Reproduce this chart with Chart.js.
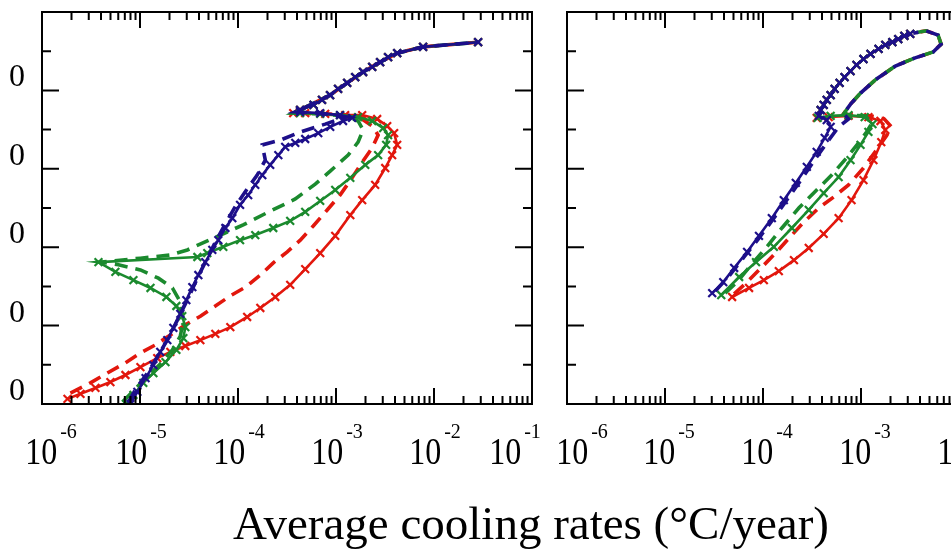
<!DOCTYPE html>
<html>
<head>
<meta charset="utf-8">
<script src="https://cdn.jsdelivr.net/npm/chart.js@4.4.1/dist/chart.umd.min.js"></script>
<style>
  html, body { margin: 0; padding: 0; background: #fff; overflow: hidden; }
  #page { position: relative; width: 951px; height: 554px; overflow: hidden; }
  #left-chart { position: absolute; left: 0; top: 0; }
  #right-chart { position: absolute; left: 547px; top: 0; }
  #x-title {
    position: absolute; left: 0; width: 1062px; top: 500px;
    text-align: center; white-space: nowrap; color: #000;
    font-family: "Liberation Serif", "Times New Roman", serif;
    font-size: 47px; line-height: 47px;
  }
</style>
</head>
<body>
<div id="page">
  <canvas id="left-chart" width="560" height="554"></canvas>
  <canvas id="right-chart" width="540" height="554"></canvas>
  <div id="x-title">Average cooling rates (°C/year)</div>
</div>
<script>
// tick labels
const decadeExponents = [-6, -5, -4, -3, -2, -1];
const yTickValues = [0, 2, 4, 6, 8];
const yTickLabels = ["0", "0", "0", "0", "0"];

// ---- left panel ----
const leftUpperRate = [4.3e-4, 5.9e-4, 7.2e-4, 8.7e-4, 1.05e-3, 1.3e-3, 1.57e-3, 1.89e-3, 2.34e-3, 2.82e-3, 3.4e-3, 4.21e-3, 7.74e-3, 2.82e-2];
const leftUpperLevel = [7.5, 7.63, 7.76, 7.88, 8.04, 8.19, 8.34, 8.47, 8.6, 8.72, 8.85, 8.95, 9.11, 9.23];
const leftDashUpperRate = [4.3e-4, 8.7e-4, 1.3e-3, 1.89e-3, 2.82e-3, 4.21e-3, 7.74e-3, 2.82e-2];
const leftDashUpperLevel = [7.5, 7.88, 8.19, 8.47, 8.72, 8.95, 9.11, 9.23];

const leftRedSolidRate = [1.82e-6, 2.47e-6, 3.51e-6, 4.99e-6, 7.1e-6, 1.01e-5, 1.5e-5, 2.04e-5, 2.9e-5, 4.13e-5, 5.87e-5, 8.35e-5, 1.24e-4, 1.69e-4, 2.4e-4, 3.41e-4, 4.85e-4, 6.9e-4, 9.82e-4, 1.4e-3, 1.85e-3, 2.51e-3, 3.18e-3, 3.74e-3, 4.21e-3, 3.92e-3, 3.33e-3, 2.63e-3, 1.85e-3, 1.24e-3, 7.76e-4, 4.85e-4, 3.66e-4];
const leftRedSolidLevel = [0.13, 0.26, 0.41, 0.56, 0.74, 0.94, 1.17, 1.33, 1.48, 1.63, 1.79, 1.96, 2.22, 2.45, 2.73, 3.04, 3.44, 3.85, 4.29, 4.82, 5.2, 5.59, 6.02, 6.35, 6.61, 6.91, 7.09, 7.27, 7.37, 7.37, 7.4, 7.42, 7.42];
const leftRedDashRate = [1.95e-6, 3.12e-6, 4.65e-6, 7.1e-6, 1.01e-5, 1.44e-5, 2.04e-5, 2.9e-5, 4.13e-5, 5.87e-5, 8.35e-5, 1.19e-4, 1.69e-4, 2.29e-4, 3.18e-4, 4.32e-4, 5.86e-4, 8.13e-4, 1.1e-3, 1.46e-3, 1.85e-3, 2.34e-3, 2.69e-3, 2.34e-3, 1.77e-3, 1.24e-3, 7.76e-4, 3.66e-4];
const leftRedDashLevel = [0.28, 0.54, 0.79, 1.05, 1.3, 1.51, 1.76, 2.02, 2.24, 2.5, 2.76, 2.98, 3.29, 3.6, 3.88, 4.18, 4.54, 4.95, 5.33, 5.77, 6.17, 6.53, 6.86, 7.09, 7.3, 7.37, 7.4, 7.42];

const leftGreenSolidRate = [7.44e-6, 8.57e-6, 1.08e-5, 1.37e-5, 1.82e-5, 2.35e-5, 2.77e-5, 2.9e-5, 2.7e-5, 2.35e-5, 1.86e-5, 1.28e-5, 8.57e-6, 5.61e-6, 3.77e-6, 3.85e-5, 4.86e-5, 7.08e-5, 1.05e-4, 1.5e-4, 2.29e-4, 3.41e-4, 4.85e-4, 6.9e-4, 9.82e-4, 1.4e-3, 1.99e-3, 2.69e-3, 3.25e-3, 3.4e-3, 3.03e-3, 2.34e-3, 1.68e-3, 1.1e-3, 6.9e-4, 4.3e-4];
const leftGreenSolidLevel = [0, 0.23, 0.54, 0.79, 1.07, 1.38, 1.68, 1.96, 2.24, 2.5, 2.73, 2.96, 3.16, 3.37, 3.62, 3.75, 3.85, 4.01, 4.18, 4.31, 4.49, 4.67, 4.9, 5.18, 5.46, 5.77, 6.1, 6.35, 6.61, 6.86, 7.04, 7.22, 7.32, 7.37, 7.4, 7.42];
const leftGreenDashRate = [6.62e-6, 8.37e-6, 1.14e-5, 1.61e-5, 2.14e-5, 2.58e-5, 2.77e-5, 2.58e-5, 2.14e-5, 1.54e-5, 1.01e-5, 6.03e-6, 3.94e-6, 1.01e-5, 2.04e-5, 3.04e-5, 5.6e-5, 1.13e-4, 2.13e-4, 3.84e-4, 6.14e-4, 8.73e-4, 1.33e-3, 1.68e-3, 1.89e-3, 1.68e-3, 1.24e-3, 6.9e-4, 3.66e-4];
const leftGreenDashLevel = [0.05, 0.31, 0.66, 1.02, 1.38, 1.73, 2.14, 2.6, 2.96, 3.21, 3.42, 3.55, 3.62, 3.72, 3.8, 3.93, 4.23, 4.57, 4.92, 5.23, 5.61, 5.94, 6.35, 6.68, 6.99, 7.22, 7.35, 7.4, 7.42];

const leftBlueSolidRate = [7.98e-6, 9.4e-6, 1.14e-5, 1.37e-5, 1.61e-5, 1.9e-5, 2.19e-5, 2.58e-5, 2.97e-5, 3.42e-5, 3.94e-5, 4.64e-5, 5.47e-5, 6.3e-5, 7.43e-5, 8.75e-5, 1.05e-4, 1.27e-4, 1.5e-4, 1.77e-4, 2.13e-4, 2.58e-4, 3.03e-4, 3.84e-4, 4.85e-4, 6.59e-4, 8.73e-4, 1.18e-3, 1.46e-3, 1.1e-3, 6.9e-4, 4.3e-4];
const leftBlueSolidLevel = [0, 0.31, 0.66, 0.99, 1.33, 1.63, 1.94, 2.3, 2.65, 2.98, 3.29, 3.62, 3.93, 4.18, 4.49, 4.74, 5.08, 5.33, 5.59, 5.84, 6.1, 6.35, 6.56, 6.66, 6.76, 6.91, 7.07, 7.22, 7.3, 7.37, 7.42, 7.45];
const leftBlueDashRate = [7.62e-6, 9.19e-6, 1.22e-5, 1.54e-5, 1.95e-5, 2.46e-5, 3.11e-5, 3.85e-5, 4.86e-5, 6.01e-5, 7.6e-5, 9.61e-5, 1.22e-4, 1.57e-4, 1.9e-4, 1.77e-4, 2.7e-4, 4.32e-4, 7.76e-4, 1.24e-3, 6.9e-4, 3.84e-4];
const leftBlueDashLevel = [0.05, 0.41, 0.82, 1.25, 1.68, 2.19, 2.7, 3.21, 3.72, 4.18, 4.64, 5.08, 5.46, 5.84, 6.22, 6.61, 6.73, 6.94, 7.14, 7.32, 7.42, 7.45];

// ---- right panel ----
const rightUpperRate = [3.88e-4, 4.16e-4, 4.47e-4, 4.9e-4, 5.38e-4, 6.05e-4, 6.8e-4, 7.82e-4, 9.0e-4, 1.06e-3, 1.25e-3, 1.51e-3, 1.77e-3, 2.09e-3, 2.4e-3, 2.77e-3, 3.18e-3];
const rightUpperLevel = [7.5, 7.63, 7.76, 7.88, 8.04, 8.19, 8.34, 8.49, 8.65, 8.8, 8.93, 9.06, 9.16, 9.23, 9.31, 9.39, 9.44];
const rightDashUpperRate = [7.82e-4, 9.89e-4, 1.4e-3, 2.24e-3, 3.57e-3, 5.45e-3, 6.57e-3, 6.12e-3, 4.62e-3, 3.41e-3];
const rightDashUpperLevel = [7.65, 7.93, 8.27, 8.62, 8.83, 8.98, 9.18, 9.41, 9.52, 9.46];

const rightRedSolidRate = [4.84e-5, 7.21e-5, 1.02e-4, 1.45e-4, 2.07e-4, 2.93e-4, 4.16e-4, 5.91e-4, 8.01e-4, 1.06e-3, 1.34e-3, 1.61e-3, 1.77e-3, 1.58e-3, 1.19e-3, 7.46e-4, 4.68e-4, 3.53e-4];
const rightRedSolidLevel = [2.73, 2.96, 3.16, 3.39, 3.67, 3.98, 4.34, 4.74, 5.2, 5.71, 6.22, 6.68, 6.99, 7.22, 7.32, 7.35, 7.32, 7.3];
const rightRedDashRate = [5.08e-5, 6.88e-5, 9.55e-5, 1.32e-4, 1.84e-4, 2.61e-4, 3.71e-4, 5.26e-4, 7.46e-4, 1.06e-3, 1.44e-3, 1.82e-3, 2.04e-3, 1.73e-3, 1.25e-3, 8.39e-4, 6.64e-4];
const rightRedDashLevel = [2.81, 3.11, 3.47, 3.83, 4.23, 4.64, 5.0, 5.28, 5.59, 6.02, 6.48, 6.84, 7.07, 7.27, 7.35, 7.37, 7.4];

const rightGreenSolidRate = [3.75e-5, 5.71e-5, 8.49e-5, 1.29e-4, 1.97e-4, 2.93e-4, 4.16e-4, 5.91e-4, 7.82e-4, 9.89e-4, 1.19e-3, 1.31e-3, 1.09e-3, 7.46e-4, 4.9e-4, 3.61e-4];
const rightGreenSolidLevel = [2.78, 3.24, 3.62, 4.01, 4.49, 4.95, 5.38, 5.79, 6.22, 6.61, 6.94, 7.14, 7.32, 7.37, 7.35, 7.3];
const rightGreenDashRate = [4.11e-5, 5.44e-5, 7.55e-5, 1.07e-4, 1.56e-4, 2.32e-4, 3.37e-4, 5.02e-4, 7.13e-4, 9.44e-4, 1.14e-3, 1.31e-3, 1.09e-3, 7.82e-4, 6.64e-4];
const rightGreenDashLevel = [2.83, 3.11, 3.55, 3.98, 4.49, 5.0, 5.41, 5.84, 6.28, 6.66, 6.94, 7.19, 7.35, 7.37, 7.4];

const rightBlueSolidRate = [3.03e-5, 3.93e-5, 5.08e-5, 6.88e-5, 9.1e-5, 1.23e-4, 1.63e-4, 2.16e-4, 2.8e-4, 3.53e-4, 4.26e-4, 4.9e-4, 4.47e-4, 3.71e-4];
const rightBlueSolidLevel = [2.83, 3.11, 3.47, 3.88, 4.29, 4.74, 5.2, 5.64, 6.05, 6.43, 6.79, 7.07, 7.24, 7.35];
const rightBlueDashRate = [3.26e-5, 4.52e-5, 6.41e-5, 9.1e-5, 1.29e-4, 1.84e-4, 2.61e-4, 3.53e-4, 4.68e-4, 5.91e-4, 7.46e-4, 6.64e-4];
const rightBlueDashLevel = [2.88, 3.27, 3.75, 4.23, 4.74, 5.28, 5.82, 6.3, 6.73, 7.07, 7.27, 7.4];

const RED = "#e2170d";
const GREEN = "#1b8a2e";
const BLUE = "#1d0f8a";
const SERIF = '"Liberation Serif", "Times New Roman", serif';

function toPoints(rates, levels) {
  return rates.map((r, i) => ({ x: r, y: levels[i] }));
}

function solidSet(color, rates, levels) {
  return {
    data: toPoints(rates, levels),
    showLine: true,
    borderColor: color,
    backgroundColor: color,
    borderWidth: 2.6,
    pointStyle: "crossRot",
    pointRadius: 5.5,
    pointBorderWidth: 2.2,
    pointBorderColor: color,
    tension: 0,
  };
}

function dashedSet(color, rates, levels) {
  return {
    data: toPoints(rates, levels),
    showLine: true,
    borderColor: color,
    borderWidth: 3.6,
    borderDash: [13, 8],
    pointRadius: 0,
    tension: 0,
  };
}

// frame, inward ticks and labels drawn from the scales
const frameAxes = {
  id: "frameAxes",
  afterDatasetsDraw(chart, args, opts) {
    const { ctx, chartArea: a, scales } = chart;
    const x = scales.x;
    const y = scales.y;
    ctx.save();
    ctx.strokeStyle = "#000";
    ctx.lineWidth = 2;
    ctx.strokeRect(a.left, a.top, a.right - a.left, a.bottom - a.top);
    ctx.beginPath();
    for (let p = -6; p < 0; p++) {
      for (let m = 1; m < 10; m++) {
        const px = x.getPixelForValue(m * Math.pow(10, p));
        if (px < a.left + 1 || px > a.right - 1) continue;
        const len = m === 1 ? 16 : 8;
        ctx.moveTo(px, a.bottom);
        ctx.lineTo(px, a.bottom - len);
        ctx.moveTo(px, a.top);
        ctx.lineTo(px, a.top + len);
      }
    }
    for (let v = 1; v < 10; v++) {
      const py = y.getPixelForValue(v);
      const len = v % 2 === 0 ? 17 : 9;
      ctx.moveTo(a.left, py);
      ctx.lineTo(a.left + len, py);
      ctx.moveTo(a.right, py);
      ctx.lineTo(a.right - len, py);
    }
    ctx.stroke();

    ctx.fillStyle = "#000";
    ctx.textBaseline = "alphabetic";
    decadeExponents.forEach((e, i) => {
      let cx = x.getPixelForValue(Math.pow(10, e)) + opts.shift;
      if (i === 0) cx += opts.firstShift;
      if (i === decadeExponents.length - 1) cx += opts.lastShift;
      const sup = String(e);
      ctx.font = "32px " + SERIF;
      const baseW = ctx.measureText("10").width;
      ctx.font = "20px " + SERIF;
      const supW = ctx.measureText(sup).width;
      const left = cx - (baseW + 3 + supW) / 2;
      ctx.save();
      ctx.translate(left, 464);
      ctx.scale(1, 1.2);
      ctx.font = "32px " + SERIF;
      ctx.textAlign = "left";
      ctx.fillText("10", 0, 0);
      ctx.restore();
      ctx.font = "20px " + SERIF;
      ctx.textAlign = "left";
      ctx.fillText(sup, left + baseW + 3, 438);
    });

    if (opts.yLabels) {
      ctx.font = "32px " + SERIF;
      ctx.textAlign = "right";
      yTickValues.forEach((v, i) => {
        ctx.fillText(yTickLabels[i], 25, y.getPixelForValue(v) - 4);
      });
    }
    ctx.restore();
  },
};

function makePanel(canvasId, padding, axesOpts, datasets) {
  return new Chart(document.getElementById(canvasId), {
    type: "scatter",
    data: { datasets },
    options: {
      responsive: false,
      animation: false,
      events: [],
      layout: { padding },
      plugins: {
        legend: { display: false },
        tooltip: { enabled: false },
        frameAxes: axesOpts,
      },
      scales: {
        x: { type: "logarithmic", min: 1e-6, max: 1e-1, display: false },
        y: { type: "linear", min: 0, max: 10, display: false },
      },
    },
    plugins: [frameAxes],
  });
}

const leftChart = makePanel(
  "left-chart",
  { left: 42, top: 12, right: 28, bottom: 150 },
  { shift: 1, firstShift: 8, lastShift: -18, yLabels: true },
  [
    solidSet(BLUE, leftBlueSolidRate.concat(leftUpperRate), leftBlueSolidLevel.concat(leftUpperLevel)),
    dashedSet(BLUE, leftBlueDashRate.concat(leftDashUpperRate), leftBlueDashLevel.concat(leftDashUpperLevel)),
    solidSet(GREEN, leftGreenSolidRate.concat(leftUpperRate), leftGreenSolidLevel.concat(leftUpperLevel)),
    dashedSet(GREEN, leftGreenDashRate.concat(leftDashUpperRate), leftGreenDashLevel.concat(leftDashUpperLevel)),
    solidSet(RED, leftRedSolidRate.concat(leftUpperRate), leftRedSolidLevel.concat(leftUpperLevel)),
    dashedSet(RED, leftRedDashRate.concat(leftDashUpperRate), leftRedDashLevel.concat(leftDashUpperLevel)),
  ]
);

const rightChart = makePanel(
  "right-chart",
  { left: 20, top: 12, right: 30, bottom: 150 },
  { shift: 4, firstShift: 11, lastShift: 0, yLabels: false },
  [
    solidSet(BLUE, rightBlueSolidRate.concat(rightUpperRate), rightBlueSolidLevel.concat(rightUpperLevel)),
    dashedSet(BLUE, rightBlueDashRate.concat(rightDashUpperRate), rightBlueDashLevel.concat(rightDashUpperLevel)),
    solidSet(GREEN, rightGreenSolidRate.concat(rightUpperRate), rightGreenSolidLevel.concat(rightUpperLevel)),
    dashedSet(GREEN, rightGreenDashRate.concat(rightDashUpperRate), rightGreenDashLevel.concat(rightDashUpperLevel)),
    solidSet(RED, rightRedSolidRate.concat(rightUpperRate), rightRedSolidLevel.concat(rightUpperLevel)),
    dashedSet(RED, rightRedDashRate.concat(rightDashUpperRate), rightRedDashLevel.concat(rightDashUpperLevel)),
  ]
);
</script>
</body>
</html>
